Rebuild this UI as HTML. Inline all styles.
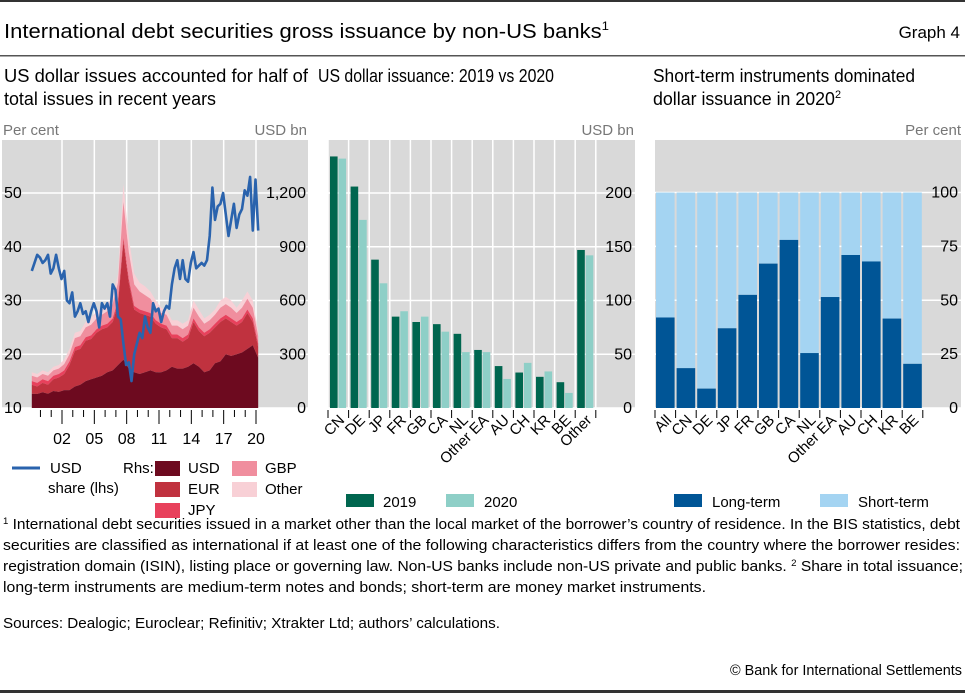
<!DOCTYPE html>
<html><head><meta charset="utf-8"><style>
body{margin:0;background:#fff;}
svg{display:block;font-family:"Liberation Sans",sans-serif;}
</style></head><body>
<svg id="s" width="965" height="693" viewBox="0 0 965 693" xmlns="http://www.w3.org/2000/svg">
<rect x="0" y="0" width="965" height="2" fill="#333"/>
<text x="4" y="38" font-size="20" fill="#000" textLength="605" lengthAdjust="spacingAndGlyphs">International debt securities gross issuance by non-US banks<tspan font-size="12" dy="-8">1</tspan></text>
<text x="960" y="38" font-size="17" text-anchor="end">Graph 4</text>
<rect x="0" y="55" width="965" height="1.5" fill="#555"/>
<g font-size="18" fill="#000">
<text x="4" y="82" textLength="304" lengthAdjust="spacingAndGlyphs">US dollar issues accounted for half of</text>
<text x="4" y="105" textLength="212" lengthAdjust="spacingAndGlyphs">total issues in recent years</text>
<text x="318" y="82" textLength="236" lengthAdjust="spacingAndGlyphs">US dollar issuance: 2019 vs 2020</text>
<text x="653" y="82" textLength="262" lengthAdjust="spacingAndGlyphs">Short-term instruments dominated</text>
<text x="653" y="105" textLength="188" lengthAdjust="spacingAndGlyphs">dollar issuance in 2020<tspan font-size="11" dy="-7">2</tspan></text>
</g>
<g font-size="15" fill="#777">
<text x="3" y="135">Per cent</text>
<text x="307" y="135" text-anchor="end">USD bn</text>
<text x="634" y="135" text-anchor="end">USD bn</text>
<text x="961" y="135" text-anchor="end">Per cent</text>
</g>
<g id="left"></g>
<g id="mid"></g>
<g id="right"></g>

<!-- legends -->
<g font-size="15" fill="#000">
<line x1="12" y1="468" x2="40" y2="468" stroke="#2a63ad" stroke-width="3"/>
<text x="50" y="473">USD</text>
<text x="48" y="493">share (lhs)</text>
<text x="123" y="473">Rhs:</text>
<rect x="155" y="461" width="25" height="15" fill="#6d0a1f"/>
<text x="188" y="473">USD</text>
<rect x="155" y="482" width="25" height="15" fill="#c0323f"/>
<text x="188" y="494">EUR</text>
<rect x="155" y="503" width="25" height="15" fill="#e8415c"/>
<text x="188" y="515">JPY</text>
<rect x="232" y="461" width="25" height="15" fill="#f08e9e"/>
<text x="265" y="473">GBP</text>
<rect x="232" y="482" width="25" height="15" fill="#f8d0d6"/>
<text x="265" y="494">Other</text>
<rect x="346" y="494" width="28" height="13" fill="#00664f"/>
<text x="383" y="507">2019</text>
<rect x="446" y="494" width="28" height="13" fill="#8ecfc7"/>
<text x="484" y="507">2020</text>
<rect x="674" y="494" width="28" height="13" fill="#005596"/>
<text x="712" y="507">Long-term</text>
<rect x="820" y="494" width="28" height="13" fill="#a4d4f2"/>
<text x="858" y="507">Short-term</text>
</g>
<g font-size="14.5" fill="#000">
<text x="3" y="529" textLength="957" lengthAdjust="spacingAndGlyphs"><tspan font-size="9" dy="-5">1</tspan><tspan dy="5">  International debt securities issued in a market other than the local market of the borrower’s country of residence. In the BIS statistics, debt</tspan></text>
<text x="3" y="550" textLength="957" lengthAdjust="spacingAndGlyphs">securities are classified as international if at least one of the following characteristics differs from the country where the borrower resides:</text>
<text x="3" y="571" textLength="960" lengthAdjust="spacingAndGlyphs">registration domain (ISIN), listing place or governing law. Non-US banks include non-US private and public banks.     <tspan font-size="9" dy="-5">2</tspan><tspan dy="5">  Share in total issuance;</tspan></text>
<text x="3" y="592" textLength="703" lengthAdjust="spacingAndGlyphs">long-term instruments are medium-term notes and bonds; short-term are money market instruments.</text>
<text x="3" y="628" textLength="497" lengthAdjust="spacingAndGlyphs">Sources: Dealogic; Euroclear; Refinitiv; Xtrakter Ltd; authors’ calculations.</text>
<text x="962" y="675" text-anchor="end" textLength="232" lengthAdjust="spacingAndGlyphs">© Bank for International Settlements</text>
</g>
<rect x="0" y="690" width="965" height="3" fill="#333"/>
</svg>
<script>
// ---------- Left chart data ----------
const leftYearTicks = ["02","05","08","11","14","17","20"];
const leftTickYears = [2002,2005,2008,2011,2014,2017,2020];
const lhsTicks = [10,20,30,40,50];
const rhsTickLabels = ["0","300","600","900","1,200"];
const rhsTicks = [0,300,600,900,1200];
const stackStartYear = 1999.2;
const stackStep = 0.5;
const usdIssues = [80,78,88,80,95,90,100,100,120,130,150,160,170,180,200,210,240,270,220,200,190,200,210,200,200,210,230,220,220,230,250,230,200,210,250,260,300,290,300,310,330,350,280];
const eurIssues = [50,42,52,50,65,80,90,140,200,200,225,225,250,260,250,270,340,660,480,350,340,320,300,270,250,230,160,170,150,160,230,200,200,210,200,220,200,190,160,170,200,130,60];
const jpyIssues = [20,20,20,20,20,20,20,20,20,20,20,20,20,20,20,20,20,20,20,20,20,20,20,20,20,20,20,20,20,20,20,20,20,20,20,20,20,20,20,20,20,20,20];
const gbpIssues = [30,30,30,30,30,30,35,40,50,50,55,60,60,60,70,80,100,200,150,120,100,90,80,70,60,60,50,50,50,50,60,60,50,50,50,60,60,60,50,60,60,60,40];
const otherIssues = [20,20,20,20,20,20,25,30,30,30,30,35,40,40,40,40,50,100,80,60,50,50,40,40,30,30,30,30,30,30,40,40,30,30,30,40,40,40,30,40,40,40,30];
const usdShare = [35.5,37,38.5,38,37,37.5,38.5,35,36,38.5,36,34,35.5,30,29.5,31.5,27,28,29.5,27.5,28,26,28,29.5,28,25,29.5,28.5,29.5,27,33,32,27,26.5,22,18,18.5,15,20,22,24,23,27,25,24,29.5,28,28.5,26,28,29,28.5,33,36,37.5,34,37.5,34,33.5,37,39,36,36.5,37,36.5,37.5,42,51,45,47.5,48,50,46,42,45,48,43.5,46,47,50.5,49.5,53,43,52.5,43];
const shareStartYear = 1999.2, shareEndYear = 2020.2;

// ---------- Middle chart data ----------
const midCategories = ["CN","DE","JP","FR","GB","CA","NL","Other EA","AU","CH","KR","BE","Other"];
const issuance2019 = [234,206,138,85,80,78,69,54,39,33,29,24,147];
const issuance2020 = [232,175,116,90,85,71,52,52,27,42,34,14,142];
const midTicks = [0,50,100,150,200];

// ---------- Right chart data ----------
const rightCategories = ["All","CN","DE","JP","FR","GB","CA","NL","Other EA","AU","CH","KR","BE"];
const longTermShare = [42,18.5,9,37,52.5,67,78,25.5,51.5,71,68,41.5,20.5];
const rightTicks = [0,25,50,75,100];

const NS = "http://www.w3.org/2000/svg";
function mk(parent, tag, attrs){const e=document.createElementNS(NS,tag);for(const k in attrs)e.setAttribute(k,attrs[k]);parent.appendChild(e);return e;}

// ---- Left ----
(function(){
  const g=document.getElementById('left');
  const X0=2,X1=308,Y0=140,Y1=408;
  const xL=y=>62+(y-2002)*(194/18);
  const yL=v=>408-(v-10)*(215/40);
  const yR=v=>408-v*(215/1200);
  let e=mk(g,'rect',{x:X0,y:Y0,width:X1-X0,height:Y1-Y0,fill:'#d9d9d9'});
  
  
  lhsTicks.forEach(v=>{const l=mk(g,'line',{x1:X0,x2:X1,y1:yL(v),y2:yL(v),stroke:'#fff','stroke-width':1.5});
    
    });
  leftTickYears.forEach(y=>{const l=mk(g,'line',{x1:xL(y),x2:xL(y),y1:Y0,y2:Y1,stroke:'#fff','stroke-width':1.5});
    
    });
  const layers=[usdIssues,eurIssues,jpyIssues,gbpIssues,otherIssues];
  const cols=['#6d0a1f','#c0323f','#e8415c','#f08e9e','#f8d0d6'];
  const names=['usd','eur','jpy','gbp','other'];
  const n=usdIssues.length;
  const cum=[];let base=new Array(n).fill(0);
  layers.forEach(L=>{const top=base.map((b,i)=>b+L[i]);cum.push([base,top]);base=top;});
  for(let k=layers.length-1;k>=0;k--){
    const [b,t]=cum[k];let d='';
    for(let i=0;i<n;i++){d+=(i?'L':'M')+xL(stackStartYear+i*stackStep).toFixed(1)+','+yR(t[i]).toFixed(1);}
    for(let i=n-1;i>=0;i--){d+='L'+xL(stackStartYear+i*stackStep).toFixed(1)+','+yR(b[i]).toFixed(1);}
    const p=mk(g,'path',{d:d+'Z',fill:cols[k]});
    
    
  }
  let d='';const m=usdShare.length;
  usdShare.forEach((v,i)=>{const yr=shareStartYear+i*(shareEndYear-shareStartYear)/(m-1);d+=(i?'L':'M')+xL(yr).toFixed(1)+','+yL(v).toFixed(1);});
  const pl=mk(g,'path',{d:d,fill:'none',stroke:'#2a63ad','stroke-width':2.6,'stroke-linejoin':'round'});
  
  
  for(let y=2000;y<=2020;y++){const maj=leftTickYears.includes(y);
    const t=mk(g,'line',{x1:xL(y),x2:xL(y),y1:410,y2:maj?424:417,stroke:'#000','stroke-width':1});
    
    }
  leftYearTicks.forEach((s,i)=>{const t=mk(g,'text',{x:xL(leftTickYears[i]),y:444,'font-size':16,'text-anchor':'middle'});t.textContent=s;
    
    });
  lhsTicks.forEach(v=>{const t=mk(g,'text',{x:4,y:yL(v)+5,'font-size':16});t.textContent=v;
    
    });
  rhsTicks.forEach((v,i)=>{const t=mk(g,'text',{x:306,y:yR(v)+5,'font-size':16,'text-anchor':'end'});t.textContent=rhsTickLabels[i];
    
    });
})();

// ---- Middle ----
(function(){
  const g=document.getElementById('mid');
  const X0=328,X1=635,Y0=140,Y1=408,gw=20.6;
  const y=v=>408-v*(215/200);
  let e=mk(g,'rect',{x:X0,y:Y0,width:X1-X0,height:Y1-Y0,fill:'#d9d9d9'});
  
  
  midTicks.forEach(v=>{const l=mk(g,'line',{x1:X0,x2:X1,y1:y(v),y2:y(v),stroke:'#fff','stroke-width':1.5});
    
    });
  for(let i=0;i<=midCategories.length;i++){const x=X0+i*gw;
    const l=mk(g,'line',{x1:x,x2:x,y1:Y0,y2:Y1,stroke:'#fff','stroke-width':1.5});
    
    
    const t=mk(g,'line',{x1:x,x2:x,y1:410,y2:418,stroke:'#000'});
    
    }
  midCategories.forEach((c,i)=>{const gx=X0+i*gw;
    const b1=mk(g,'rect',{x:gx+2,y:y(issuance2019[i]),width:7.6,height:408-y(issuance2019[i]),fill:'#00664f'});
    
    
    const b2=mk(g,'rect',{x:gx+10.5,y:y(issuance2020[i]),width:7.6,height:408-y(issuance2020[i]),fill:'#8ecfc7'});
    
    
    const cx=gx+gw/2+7,cy=421;
    const t=mk(g,'text',{x:cx,y:cy,'font-size':15,'text-anchor':'end',transform:`rotate(-45 ${cx} ${cy})`});t.textContent=c;
    
    });
  midTicks.forEach(v=>{const t=mk(g,'text',{x:632,y:y(v)+5,'font-size':16,'text-anchor':'end'});t.textContent=v;
    
    });
})();

// ---- Right ----
(function(){
  const g=document.getElementById('right');
  const X0=655,X1=961,Y0=140,Y1=408,gw=20.6;
  const y=v=>408-v*(215.5/100);
  let e=mk(g,'rect',{x:X0,y:Y0,width:X1-X0,height:Y1-Y0,fill:'#d9d9d9'});
  
  
  rightTicks.forEach(v=>{const l=mk(g,'line',{x1:X0,x2:X1,y1:y(v),y2:y(v),stroke:'#fff','stroke-width':1.5});
    
    });
  for(let i=0;i<=rightCategories.length;i++){const x=X0+i*gw;
    const t=mk(g,'line',{x1:x,x2:x,y1:410,y2:418,stroke:'#000'});
    
    }
  rightCategories.forEach((c,i)=>{const gx=X0+i*gw;
    const s=mk(g,'rect',{x:gx+1,y:y(100),width:gw-2,height:y(longTermShare[i])-y(100),fill:'#a4d4f2'});
    
    
    const l=mk(g,'rect',{x:gx+1,y:y(longTermShare[i]),width:gw-2,height:408-y(longTermShare[i]),fill:'#005596'});
    
    
    const cx=gx+gw/2+7,cy=421;
    const t=mk(g,'text',{x:cx,y:cy,'font-size':15,'text-anchor':'end',transform:`rotate(-45 ${cx} ${cy})`});t.textContent=c;
    
    });
  rightTicks.forEach(v=>{const t=mk(g,'text',{x:958,y:y(v)+5,'font-size':16,'text-anchor':'end'});t.textContent=v;
    
    });
})();
</script>
</body></html>
